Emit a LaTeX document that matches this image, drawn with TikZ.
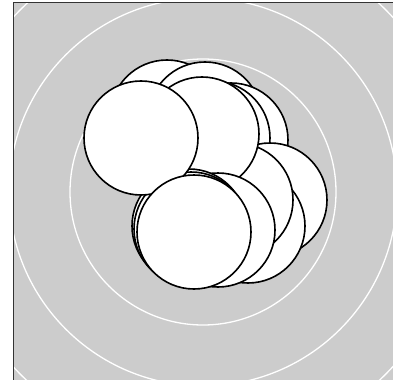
\documentclass[tikz,border=0pt]{standalone}
\begin{document}
\begin{tikzpicture}[x=1pt,y=-1pt,
 disc/.style={circle,draw,fill=white,line width=1.6pt,minimum size=114pt,inner sep=0pt},
 ring/.style={draw=white,line width=1.3pt}]
\definecolor{field}{RGB}{204,204,204}
\useasboundingbox (0,0) rectangle (397,380);
\fill[field] (13,2) rectangle (393,380);
\begin{scope}
\clip (13,2) rectangle (393,380);
\coordinate (o) at (203,192);
\foreach \r in {133,194,258}
 \draw[ring] (o) circle (\r);
\end{scope}
\draw[line width=.8pt,black!80] (13,380)--(13,2)--(393,2);
\foreach \n/\x/\y in {d/167/117,e/205/119,f/231/140,g/213/138,h/270/200,k/248/226,
 i/236/200,c/202/134,l/218/230,m/189/226,n/191/229,a/141/138,b/194/232}
 \node[disc] (\n) at (\x,\y) {};
\end{tikzpicture}
\end{document}
